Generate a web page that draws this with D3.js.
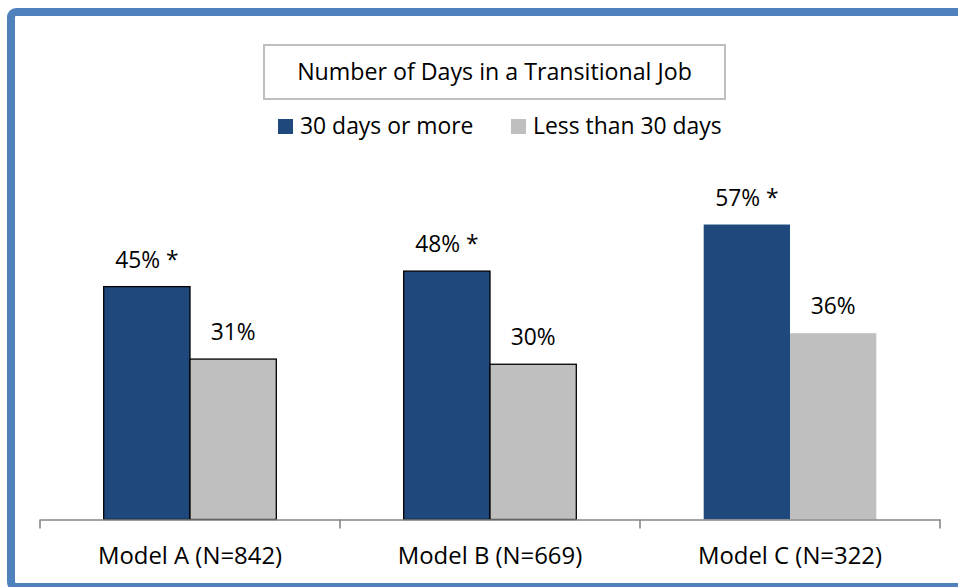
<!DOCTYPE html>
<html>
<head>
<meta charset="utf-8">
<script src="https://cdn.jsdelivr.net/npm/d3@7"></script>
<style>
html,body{margin:0;padding:0;background:#fff;}
svg{display:block;}
text{font-family:"Open Sans",sans-serif;fill:#000;}
</style>
</head>
<body>
<svg id="chart" width="958" height="587"></svg>
<script>
const categories = ["Model A (N=842)", "Model B (N=669)", "Model C (N=322)"];
const seriesNames = ["30 days or more", "Less than 30 days"];
const valuesLong = [45, 48, 57];
const valuesShort = [31, 30, 36];
const labelsLong = ["45% *", "48% *", "57% *"];
const labelsShort = ["31%", "30%", "36%"];
const outlined = [true, true, false];
const chartTitle = "Number of Days in a Transitional Job";
const colors = ["#1F497D", "#BFBFBF"];

const svg = d3.select("#chart");

// frame
svg.append("rect")
  .attr("x", 11).attr("y", 12)
  .attr("width", 960).attr("height", 575)
  .attr("rx", 5)
  .attr("fill", "none")
  .attr("stroke", "#4F81BD")
  .attr("stroke-width", 8);

const baseY = 519.5;
const x0 = d3.scaleBand().domain(categories).range([40, 940]).padding(0);
const x1 = d3.scaleBand().domain(seriesNames).range([0, x0.bandwidth()]).paddingInner(0).paddingOuter(0.738);
const y = d3.scaleLinear().domain([0, 60]).range([baseY, baseY - 60 * 5.175]);

const rows = categories.map((c, i) => ({
  cat: c, outlined: outlined[i],
  items: [
    {s: seriesNames[0], v: valuesLong[i], label: labelsLong[i], color: colors[0]},
    {s: seriesNames[1], v: valuesShort[i], label: labelsShort[i], color: colors[1]}
  ]
}));

const g = svg.selectAll("g.grp").data(rows).join("g")
  .attr("class", "grp")
  .attr("transform", d => `translate(${x0(d.cat)},0)`);

g.selectAll("rect").data(d => d.items.map(it => ({...it, outlined: d.outlined}))).join("rect")
  .attr("x", d => x1(d.s))
  .attr("y", d => y(d.v))
  .attr("width", x1.bandwidth())
  .attr("height", d => y(0) - y(d.v))
  .attr("fill", d => d.color)
  .attr("stroke", d => d.outlined ? "#000" : "none")
  .attr("stroke-width", 1.3);

g.selectAll("text.val").data(d => d.items).join("text")
  .attr("class", "val")
  .attr("x", d => x1(d.s) + x1.bandwidth() / 2)
  .attr("y", d => y(d.v) - 19)
  .attr("text-anchor", "middle")
  .style("font-size", "22.8px")
  .text(d => d.label);

// axis
const axis = d3.axisBottom(x0).tickSize(0).tickSizeOuter(0).tickPadding(0);
const ax = svg.append("g").attr("transform", `translate(0,${baseY})`).call(axis);
ax.select(".domain").attr("stroke", "#868686").attr("stroke-width", 1.6);
ax.selectAll(".tick text")
  .attr("y", 44)
  .attr("dy", 0)
  .style("font-family", "'Open Sans',sans-serif")
  .style("font-size", "23.9px")
  .attr("fill", "#000");
// group boundary ticks
const bounds = [0, 1, 2, 3].map(i => 40 + i * x0.step());
ax.selectAll("line.bound").data(bounds).join("line")
  .attr("class", "bound")
  .attr("x1", d => d).attr("x2", d => d)
  .attr("y1", 0).attr("y2", 9)
  .attr("stroke", "#868686").attr("stroke-width", 1.6);

// title box
svg.append("rect")
  .attr("x", 264).attr("y", 45)
  .attr("width", 461).attr("height", 54)
  .attr("fill", "#fff")
  .attr("stroke", "#BFBFBF")
  .attr("stroke-width", 2);
svg.append("text")
  .attr("x", 494.5).attr("y", 79.5)
  .attr("text-anchor", "middle")
  .style("font-size", "23.2px")
  .text(chartTitle);

// legend
const legX = [278, 511];
const lg = svg.selectAll("g.leg").data(seriesNames).join("g")
  .attr("class", "leg")
  .attr("transform", (d, i) => `translate(${legX[i]},119)`);
lg.append("rect").attr("width", 15).attr("height", 15).attr("fill", (d, i) => colors[i]);
lg.append("text").attr("x", 22).attr("y", 15).style("font-size", "22.9px").text(d => d);
</script>
</body>
</html>
